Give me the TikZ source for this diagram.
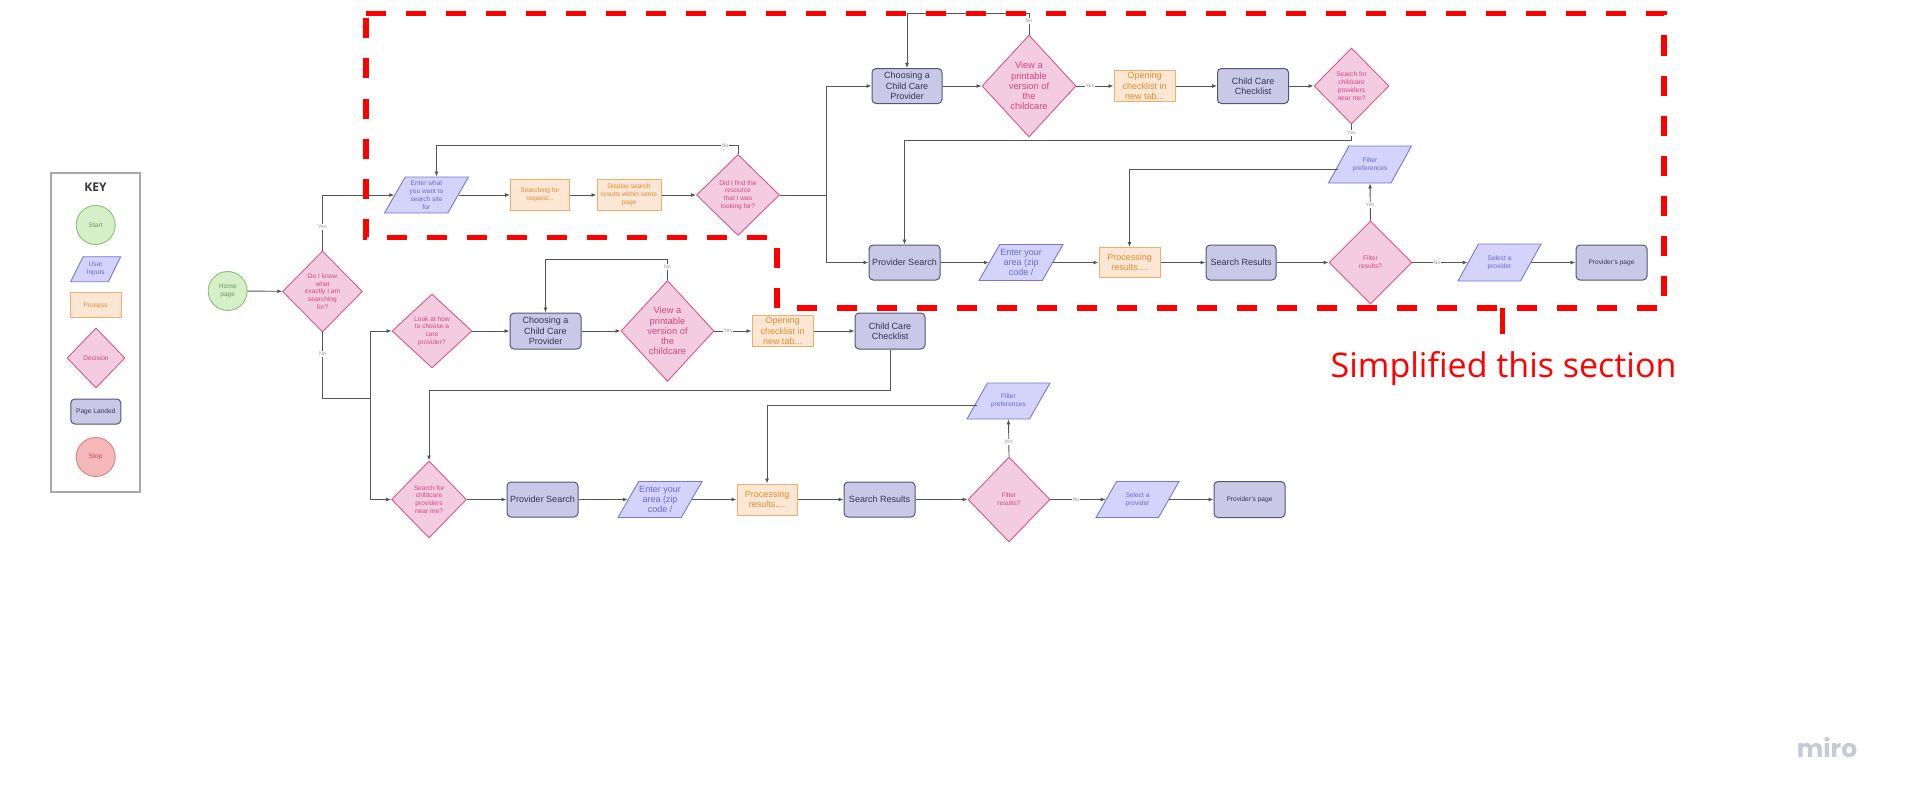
\documentclass[tikz,border=0pt]{standalone}
\usepackage{fontspec}
\setmainfont{Liberation Sans}
\newfontfamily\redfont{Open Sans}
\newfontfamily\mirofont{Poppins}
\usetikzlibrary{shapes.geometric,arrows.meta}
\definecolor{startfill}{HTML}{D5EFC9}
\definecolor{startdraw}{HTML}{8CBF73}
\definecolor{starttext}{HTML}{6E9A5C}
\definecolor{infill}{HTML}{D3D3FB}
\definecolor{indraw}{HTML}{7878D0}
\definecolor{intext}{HTML}{6A6AD0}
\definecolor{procfill}{HTML}{FBE7D4}
\definecolor{procdraw}{HTML}{F2AD6A}
\definecolor{proctext}{HTML}{E88A2E}
\definecolor{decfill}{HTML}{F3CCDF}
\definecolor{decdraw}{HTML}{D4588F}
\definecolor{dectext}{HTML}{D5458A}
\definecolor{pagefill}{HTML}{C9C8E7}
\definecolor{pagedraw}{HTML}{55557A}
\definecolor{pagetext}{HTML}{35354F}
\definecolor{stopfill}{HTML}{F4B8B8}
\definecolor{stopdraw}{HTML}{D98080}
\definecolor{stoptext}{HTML}{C54848}
\definecolor{linec}{HTML}{555555}
\definecolor{labc}{HTML}{9A9A9A}
\definecolor{keyc}{HTML}{A8A8A8}
\definecolor{miroc}{HTML}{C6C9D6}
\definecolor{redc}{HTML}{FF0000}
\tikzset{
 base/.style={inner sep=0pt, align=center, font=\fontsize{6.6}{7.8}\selectfont},
 med/.style={font=\fontsize{9}{10.4}\selectfont},
 startc/.style={base, circle, fill=startfill, draw=startdraw, line width=0.9pt, minimum size=39pt, text=starttext},
 stopc/.style={base, circle, fill=stopfill, draw=stopdraw, line width=0.9pt, minimum size=39pt, text=stoptext},
 proc/.style={base, rectangle, fill=procfill, draw=procdraw, line width=1pt, text=proctext},
 page/.style={base, rectangle, rounded corners=4pt, fill=pagefill, draw=pagedraw, line width=1pt, text=pagetext},
 inp/.style={base, inner sep=1pt, trapezium, trapezium left angle=64, trapezium right angle=116, trapezium stretches=true, fill=infill, draw=indraw, line width=0.9pt},
 dec/.style={base, inner sep=1pt, diamond, fill=decfill, draw=decdraw, line width=0.9pt},
 dtxt/.style={text=dectext, align=center, inner sep=0pt, font=\fontsize{6.6}{7.8}\selectfont},
 dtxtm/.style={text=dectext, align=center, inner sep=0pt, font=\fontsize{9.3}{10.3}\selectfont},
 itxt/.style={text=intext, align=center, inner sep=0pt, font=\fontsize{6.6}{7.8}\selectfont},
 itxtm/.style={text=intext, align=center, inner sep=0pt, font=\fontsize{9}{10.4}\selectfont},
 arr/.style={draw=linec, line width=0.9pt, -{Latex[length=5pt,width=4pt]}},
 ln/.style={draw=linec, line width=0.9pt},
 lab/.style={inner sep=0.8pt, fill=white, text=labc, font=\fontsize{5.3}{5.3}\selectfont},
}
\begin{document}
\begin{tikzpicture}[x=1pt,y=-1pt]
\useasboundingbox (0,0) rectangle (1926,800);
\fill[white] (0,0) rectangle (1926,800);

% ---------- key ----------
\node[draw=keyc, line width=1.2pt, minimum width=89pt, minimum height=319pt, inner sep=0pt] (keybox) at (95.5,332.5) {};
\node[font=\redfont\bfseries\fontsize{12}{12}\selectfont, text=black!78] (keyt) at (95.5,187) {KEY};
\node[startc] (kstart) at (95.7,225) {Start};
\node[inp, minimum width=50pt, minimum height=25pt, label={[itxt]center:{User\\Inputs}}] (kin) at (95.7,269.2) {};
\node[proc, minimum width=51pt, minimum height=25pt] (kproc) at (95.5,305.3) {Process};
\node[dec, minimum width=58pt, minimum height=60pt, label={[dtxt]center:{Decision}}] (kdec) at (96,358) {};
\node[page, minimum width=50pt, minimum height=25pt] (kpage) at (95.8,411.5) {Page Landed};
\node[stopc] (kstop) at (95.7,457) {Stop};

% ---------- start ----------
\node[startc] (home) at (227.7,291) {Home\\page};
\node[dec, minimum width=80pt, minimum height=81pt, label={[dtxt]center:{Do I know\\what\\exactly I am\\searching\\for?}}] (d1) at (322.5,291.5) {};

% ---------- upper row 2 ----------
\node[inp, minimum width=84pt, minimum height=36pt, label={[itxt]center:{Enter what\\you want to\\search site\\for}}] (enter) at (426.5,195) {};
\node[proc, minimum width=59pt, minimum height=31pt] (srch) at (540,195) {Searching for\\request...};
\node[proc, minimum width=64pt, minimum height=31pt] (disp) at (629,195) {Display search\\results within same\\page};
\node[dec, minimum width=83pt, minimum height=81pt, label={[dtxt]center:{Did I find the\\resource\\that I was\\looking for?}}] (did) at (738,195) {};

% ---------- upper row 1 ----------
\node[page, med, minimum width=70pt, minimum height=35pt] (ch1) at (907,86) {Choosing a\\Child Care\\Provider};
\node[dec, minimum width=94pt, minimum height=102pt, label={[dtxtm]center:{View a\\printable\\version of\\the\\childcare}}] (v1) at (1029,86) {};
\node[proc, med, minimum width=61pt, minimum height=31pt] (op1) at (1144.5,86) {Opening\\checklist in\\new tab...};
\node[page, med, minimum width=71pt, minimum height=35pt] (cc1) at (1253,86) {Child Care\\Checklist};
\node[dec, minimum width=75pt, minimum height=76pt, label={[dtxt]center:{Search for\\childcare\\providers\\near me?}}] (sf1) at (1351.5,86) {};

% ---------- upper row 3 ----------
\node[page, med, minimum width=71pt, minimum height=35pt] (ps1) at (904.5,262.5) {Provider Search};
\node[inp, minimum width=84pt, minimum height=36pt, label={[itxtm]center:{Enter your\\area (zip\\code /}}] (ea1) at (1021,262.5) {};
\node[proc, med, minimum width=61pt, minimum height=30pt] (pr1) at (1129.5,262.5) {Processing\\results....};
\node[page, med, minimum width=70pt, minimum height=35pt] (sr1) at (1241,262.5) {Search Results};
\node[dec, minimum width=83pt, minimum height=83pt, label={[dtxt]center:{Filter\\results?}}] (fr1) at (1370.5,262.5) {};
\node[inp, minimum width=83pt, minimum height=37pt, label={[itxt]center:{Filter\\preferences}}] (fp1) at (1370,164.5) {};
\node[inp, minimum width=83pt, minimum height=37pt, label={[itxt]center:{Select a\\provider}}] (sel1) at (1499.5,262.5) {};
\node[page, minimum width=71pt, minimum height=35pt] (pp1) at (1611.5,262.5) {Provider's page};

% ---------- lower row 4 ----------
\node[dec, minimum width=80pt, minimum height=74pt, label={[dtxt]center:{Look at how\\to choose a\\care\\provider?}}] (look) at (432,331) {};
\node[page, med, minimum width=71pt, minimum height=36pt] (ch2) at (545.5,331) {Choosing a\\Child Care\\Provider};
\node[dec, minimum width=93pt, minimum height=101pt, label={[dtxtm]center:{View a\\printable\\version of\\the\\childcare}}] (v2) at (667.5,331) {};
\node[proc, med, minimum width=61pt, minimum height=31pt] (op2) at (782.5,331) {Opening\\checklist in\\new tab...};
\node[page, med, minimum width=70pt, minimum height=36pt] (cc2) at (890,331) {Child Care\\Checklist};

% ---------- lower row 5 ----------
\node[dec, minimum width=75pt, minimum height=77pt, label={[dtxt]center:{Search for\\childcare\\providers\\near me?}}] (sf2) at (429,499.5) {};
\node[page, med, minimum width=71pt, minimum height=35pt] (ps2) at (542.5,499.5) {Provider Search};
\node[inp, minimum width=84pt, minimum height=36pt, label={[itxtm]center:{Enter your\\area (zip\\code /}}] (ea2) at (660,499.5) {};
\node[proc, med, minimum width=60pt, minimum height=31pt] (pr2) at (767,499.5) {Processing\\results....};
\node[page, med, minimum width=71pt, minimum height=35pt] (sr2) at (879.5,499.5) {Search Results};
\node[dec, minimum width=82pt, minimum height=85pt, label={[dtxt]center:{Filter\\results?}}] (fr2) at (1009,499.5) {};
\node[inp, minimum width=83pt, minimum height=36pt, label={[itxt]center:{Filter\\preferences}}] (fp2) at (1008.5,401) {};
\node[inp, minimum width=83pt, minimum height=36pt, label={[itxt]center:{Select a\\provider}}] (sel2) at (1137.5,499.5) {};
\node[page, minimum width=71pt, minimum height=36pt] (pp2) at (1249.5,499.5) {Provider's page};

% ---------- connectors ----------
\draw[arr] (home) -- (d1);
\draw[arr] (d1.north) |- (enter);
\coordinate (jn) at (370,398);
\draw[ln] (d1.south) |- (jn);
\draw[arr] (jn) |- (look);
\draw[arr] (jn) |- (sf2);

\draw[arr] (enter) -- (srch);
\draw[arr] (srch) -- (disp);
\draw[arr] (disp) -- (did);
\draw[arr] (did.north) -- ++(0,-9) -| ([xshift=10pt]enter.north);
\coordinate (j2) at (826,195);
\draw[ln] (did.east) -- (j2);
\draw[arr] (j2) |- (ch1);
\draw[arr] (j2) |- (ps1);

\draw[arr] (ch1) -- (v1);
\draw[arr] (v1) -- (op1);
\draw[arr] (op1) -- (cc1);
\draw[arr] (cc1) -- (sf1);
\draw[arr] (v1.north) -- ++(0,-21) -| (ch1.north);
\draw[arr] (sf1.south) -- ++(0,16) -| (ps1.north);

\draw[arr] (ps1) -- (ea1);
\draw[arr] (ea1) -- (pr1);
\draw[arr] (pr1) -- (sr1);
\draw[arr] (sr1) -- (fr1);
\draw[arr] (fr1) -- (sel1);
\draw[arr] (sel1) -- (pp1);
\draw[arr] (fr1.north) -- (fp1.south);
\draw[arr] ([yshift=-4.5pt]fp1.west) -| (pr1.north);

\draw[arr] (look) -- (ch2);
\draw[arr] (ch2) -- (v2);
\draw[arr] (v2) -- (op2);
\draw[arr] (op2) -- (cc2);
\draw[arr] (v2.north) -- ++(0,-21) -| (ch2.north);
\draw[arr] (cc2.south) -- ++(0,41) -| (sf2.north);

\draw[arr] (sf2) -- (ps2);
\draw[arr] (ps2) -- (ea2);
\draw[arr] (ea2) -- (pr2);
\draw[arr] (pr2) -- (sr2);
\draw[arr] (sr2) -- (fr2);
\draw[arr] (fr2) -- (sel2);
\draw[arr] (sel2) -- (pp2);
\draw[arr] (fr2.north) -- (fp2.south);
\draw[arr] ([yshift=-4pt]fp2.west) -| (pr2.north);

% ---------- connector labels ----------
\node[lab] (l1) at (322.5,227) {Yes};
\node[lab] (l2) at (322.5,354) {No};
\node[lab] (l3) at (725,146) {No};
\node[lab] (l4) at (1029,21) {No};
\node[lab] (l5) at (1090,86) {Yes};
\node[lab] (l6) at (1351.5,133) {Yes};
\node[lab] (l7) at (1370,205) {Yes};
\node[lab] (l8) at (1437,262.5) {No};
\node[lab] (l9) at (667.5,267) {No};
\node[lab] (l10) at (728,331) {Yes};
\node[lab] (l11) at (1008.5,442) {Yes};
\node[lab] (l12) at (1076,499.5) {No};

% ---------- annotation ----------
\draw[redc, line width=5.5pt, dash pattern=on 20pt off 20pt] (366,13.5) -- (1664,13.5) -- (1664,308) -- (777,308) -- (777,237.5) -- (366,237.5) -- cycle;
\draw[redc, line width=5pt] (1502,308) -- (1502,334);
\node[font=\redfont\fontsize{34}{34}\selectfont, text=redc, anchor=base, inner sep=0pt] (simp) at (1503.5,377) {Simplified this section};

\node[font=\mirofont\bfseries\fontsize{25}{25}\selectfont, text=miroc, anchor=base, inner sep=0pt] (miro) at (1827,757) {miro};
\end{tikzpicture}
\end{document}
